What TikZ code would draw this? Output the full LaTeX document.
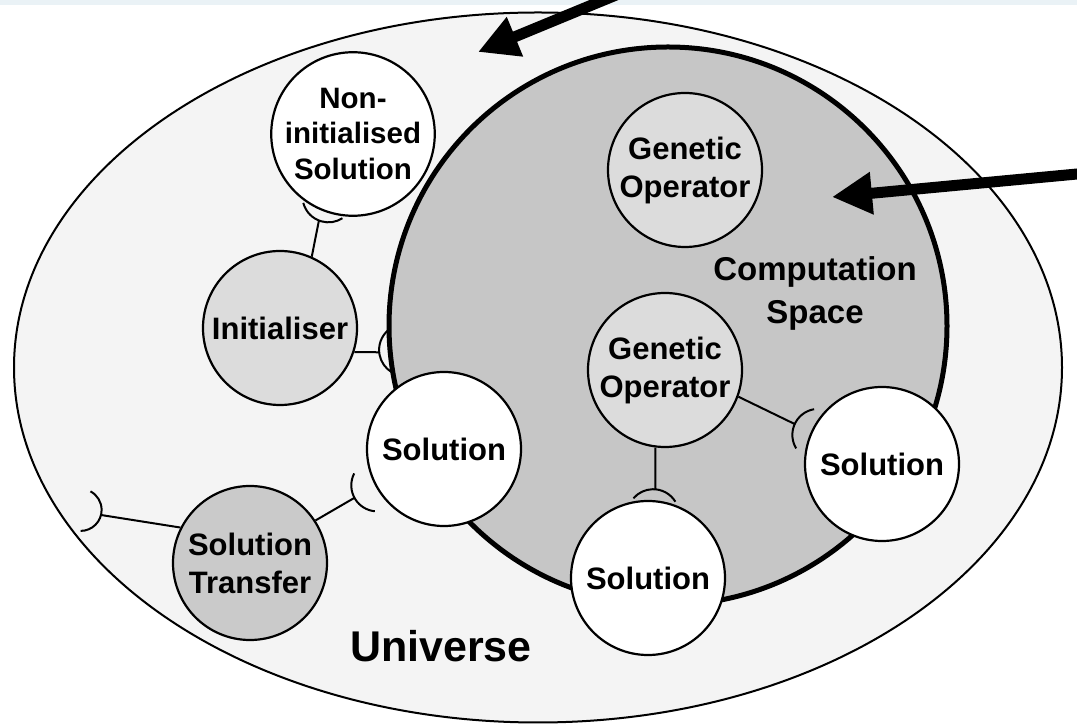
\documentclass[tikz,border=0pt]{standalone}
\usepackage{fontspec}
\setmainfont{Liberation Sans}
\usetikzlibrary{arrows.meta,shapes.geometric,calc}

\definecolor{unifill}{HTML}{F4F4F4}
\definecolor{csfill}{HTML}{C6C6C6}
\definecolor{opfill}{HTML}{DCDCDC}
\definecolor{stfill}{HTML}{CACACA}
\definecolor{topband}{HTML}{EAF2F6}

\pgfdeclarelayer{regions}
\pgfdeclarelayer{links}
\pgfsetlayers{regions,links,main}

% socket cup: #1 node, #2 direction from node centre, #3 distance of cup middle,
% #4 cup radius, #5 half opening angle
\newcommand{\socketarc}[5]{%
  \draw[conn] (#1.center) ++(#2:#3-#4) ++(#2-#5:#4)
    arc[start angle=#2-#5, end angle=#2+#5, radius=#4];}

\tikzset{
  blob/.style={circle, draw=black, line width=2.2pt, minimum size=154pt,
    inner sep=0pt, align=center, font=\fontsize{31}{38}\selectfont\bfseries},
  conn/.style={line width=2pt, black},
  pointer/.style={line width=11pt, -{Triangle[length=40pt,width=40pt]}},
  bigtext/.style={inner sep=0pt, align=center, font=\fontsize{33}{43}\selectfont\bfseries},
}

\begin{document}
\begin{tikzpicture}[x=1pt,y=1pt]
\useasboundingbox (0,0) rectangle (1077,728);

% universe and computation space
\begin{pgfonlayer}{regions}
\fill[white] (0,0) rectangle (1077,728);
\fill[topband] (0,723) rectangle (1077,728);
\draw[line width=2pt, fill=unifill] (538,360.5) ellipse [x radius=524, y radius=355];
\node[circle, draw, line width=5pt, fill=csfill, minimum size=558pt, inner sep=0pt] (cs) at (668,402) {};
\end{pgfonlayer}

% components
\node[blob, fill=white, minimum size=148pt, font=\fontsize{29.5}{35.5}\selectfont\bfseries] (noninit) at (353,594) {Non-\\initialised\\Solution};
\node[blob, fill=opfill] (init) at (280,400) {Initialiser};
\node[blob, fill=white] (solL) at (444,279) {Solution};
\node[blob, fill=stfill] (st) at (250,165) {Solution\\Transfer};
\node[blob, fill=opfill] (gotop) at (685,558) {Genetic\\Operator};
\node[blob, fill=opfill] (gomid) at (665,358) {Genetic\\Operator};
\node[blob, fill=white] (solB) at (648,150) {Solution};
\node[blob, fill=white] (solR) at (882,264) {Solution};

% required interfaces (lines ending in sockets)
\begin{pgfonlayer}{links}
\path (noninit.center) ++(248.5:93) coordinate (s1);
\path (cs.center) ++(185.2:290) coordinate (s2);
\path (solL.center) ++(208.6:102) coordinate (s3);
\path (solR.center) ++(155.4:96) coordinate (s5);
\path (solB.center) ++(85.3:89) coordinate (s6);
\coordinate (ext) at (101,213);

\draw[conn] (init.66) -- (s1);
\socketarc{noninit}{248.5}{93}{26}{54}
\draw[conn] (init.-18) -- (s2);
\socketarc{cs}{185.2}{290}{26}{54}
\draw[conn] (st.33) -- (s3);
\socketarc{solL}{208.6}{102}{26}{56}
\draw[conn] (gomid.-20) -- (s5);
\socketarc{solR}{155.4}{96}{26}{56}
\draw[conn] (gomid.263) -- (s6);
\socketarc{solB}{85.3}{89}{26}{54}
\draw[conn] (st.153) -- (ext);
\draw[conn] (ext) ++(166:21) ++(-90:21) arc[start angle=-90, end angle=62, radius=21];
\end{pgfonlayer}

% region labels
\node[bigtext] (cslabel) at (815,435) {Computation\\Space};
\node[inner sep=0pt, anchor=base, font=\fontsize{43}{50}\selectfont\bfseries] (unilabel) at (441,66) {Universe};

% pointers
\coordinate (tipA) at (478,676);
\coordinate (tailA) at (620,734.6);
\coordinate (tipB) at (832,531);
\coordinate (tailB) at (1090,555.2);
\draw[pointer] (tailA) -- (tipA);
\draw[pointer] (tailB) -- (tipB);
\end{tikzpicture}
\end{document}
